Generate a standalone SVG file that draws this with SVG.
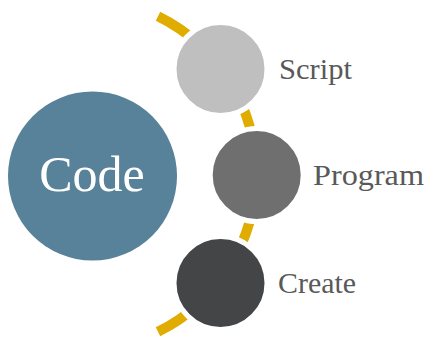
<svg xmlns="http://www.w3.org/2000/svg" width="428" height="339" viewBox="0 0 428 339">
<style>
.node{stroke:#fff;stroke-width:5}
.lbl{font-family:"Liberation Serif","Times New Roman",serif;font-size:30px;fill:#595959}
.arc{fill:none;stroke:#E0AC00;stroke-width:10}
</style>
<rect width="428" height="339" fill="#fff"/>
<g id="connectors">
<path class="arc" d="M158,16.2 A176,176 0 0 1 158,331.8"/>
</g>
<g id="code">
<circle cx="92.5" cy="176" r="84.5" fill="#58829A"/>
<text x="92" y="191" text-anchor="middle" font-family="'Liberation Serif','Times New Roman',serif" font-size="50" fill="#fff">Code</text>
</g>
<g id="script">
<circle class="node" cx="220.5" cy="69" r="46.5" fill="#BFBFBF"/>
<text class="lbl" x="279" y="79" textLength="73" lengthAdjust="spacingAndGlyphs">Script</text>
</g>
<g id="program">
<circle class="node" cx="256.7" cy="175" r="46.5" fill="#6F6F6F"/>
<text class="lbl" x="313" y="185" textLength="111" lengthAdjust="spacingAndGlyphs">Program</text>
</g>
<g id="create">
<circle class="node" cx="220.5" cy="283" r="46.5" fill="#434547"/>
<text class="lbl" x="278" y="293" textLength="78" lengthAdjust="spacingAndGlyphs">Create</text>
</g>
</svg>
